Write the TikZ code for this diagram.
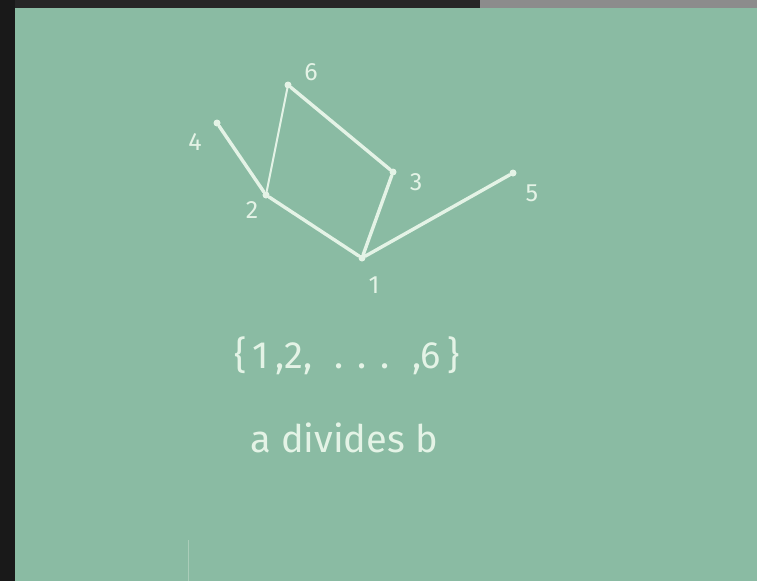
\documentclass[tikz,border=0pt]{standalone}
\usepackage{fontspec}
\setmainfont{Fira Sans}
\definecolor{board}{RGB}{138,187,163}
\definecolor{chalk}{RGB}{228,243,230}
\definecolor{faint}{RGB}{170,205,185}
\tikzset{
  vert/.style={circle,fill=chalk,inner sep=0pt,minimum size=7pt},
  edge/.style={draw=chalk,line width=3.4pt,line cap=round},
  thin edge/.style={draw=chalk,line width=2pt,line cap=round},
  lab/.style={text=chalk,font=\fontsize{25}{25}\selectfont},
  big/.style={text=chalk,font=\fontsize{38}{40}\selectfont}
}
\begin{document}
\begin{tikzpicture}[x=1pt,y=-1pt]
\useasboundingbox (0,0) rectangle (764,581);
\fill[board] (0,0) rectangle (764,581);
\fill[black!90] (0,0) rectangle (15,581);
\fill[black!85] (15,0) rectangle (480,8);
\fill[black!45] (480,0) rectangle (764,8);
\fill[white] (757,0) rectangle (764,581);
\draw[faint,line width=1pt] (188,540) -- (188,581);
% vertices
\node[vert] (n6) at (288,85) {};
\node[vert] (n4) at (217,123) {};
\node[vert] (n2) at (266,195) {};
\node[vert] (n3) at (393,172) {};
\node[vert] (n5) at (513,173) {};
\node[vert] (n1) at (362,258) {};
% edges
\draw[edge] (n4) -- (n2);
\draw[thin edge] (n2) -- (n6);
\draw[edge] (n6) -- (n3);
\draw[edge] (n2) -- (n1);
\draw[edge] (n3) -- (n1);
\draw[edge] (n1) -- (n5);
% labels
\node[lab] (l6) at (311,72) {6};
\node[lab] (l4) at (195,142) {4};
\node[lab] (l2) at (252,210) {2};
\node[lab] (l3) at (416,182) {3};
\node[lab] (l5) at (532,193) {5};
\node[lab] (l1) at (374,285) {1};
% text
\node[big] (set) at (347,356) {\{\,1\,,2,\hspace{22pt}.\hspace{14pt}.\hspace{14pt}.\hspace{22pt},6\,\}};
\node[big] (rel) at (344,438) {a divides b};
\end{tikzpicture}
\end{document}
